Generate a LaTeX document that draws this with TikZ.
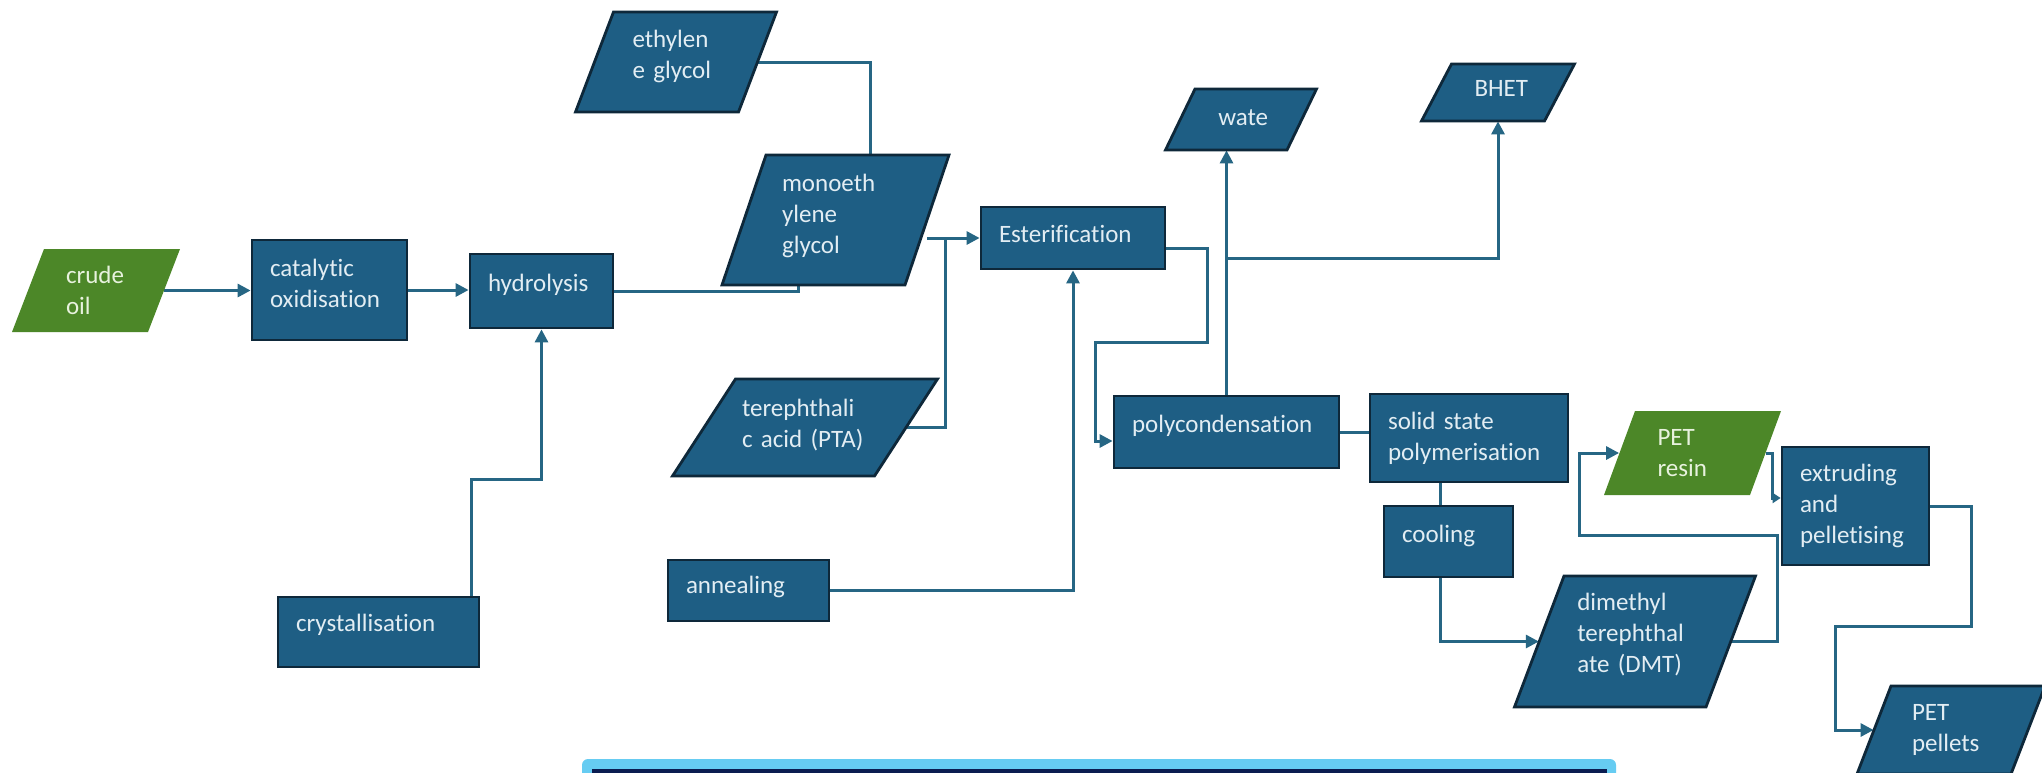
\documentclass[tikz,border=0pt]{standalone}
\usepackage{fontspec}
\setmainfont{Carlito}[RawFeature={-liga;-dlig;-clig}]
\usetikzlibrary{arrows.meta,calc}
\pgfdeclarelayer{bg}
\pgfsetlayers{bg,main}
\definecolor{boxc}{RGB}{30,94,132}
\definecolor{bdr}{RGB}{14,40,58}
\definecolor{grn}{RGB}{76,135,40}
\definecolor{tdark}{RGB}{226,237,243}
\definecolor{tgreen}{RGB}{232,242,222}
\definecolor{lnc}{RGB}{38,102,132}
\definecolor{lblue}{RGB}{102,204,242}
\definecolor{navy}{RGB}{10,28,80}
\hyphenpenalty=10000
\exhyphenpenalty=10000
\tikzset{
  basefont/.style={font=\fontsize{12.5}{15.5}\selectfont, align=left, inner ysep=0pt},
  procbox/.style={basefont, draw=bdr, line width=1.4pt, fill=boxc, text=tdark, inner xsep=9pt},
  paratext/.style={basefont, inner xsep=19pt},
  paradark/.style={draw=bdr, line width=1.4pt, fill=boxc},
  paragreen/.style={fill=grn},
  liftby/.style={execute at end node={\par\vspace{#1pt}\hrule height 0pt width 0pt}},
  conn/.style={draw=lnc, line width=1.5pt},
  arr/.style={conn, -{Triangle[length=6.5pt,width=6.5pt]}},
  smallarr/.style={conn, -{Triangle[length=4pt,width=5pt]}},
}
% [extra], name, x0, y0, x1, y1, text
\newcommand\pbox[7][]{%
  \pgfmathsetlengthmacro\bw{(#5-#3)*0.5pt}%
  \pgfmathsetlengthmacro\bh{(#6-#4)*0.5pt}%
  \pgfmathsetlengthmacro\btw{(#5-#3)*0.5pt-18pt}%
  \pgfmathsetmacro\bcx{(#3+#5)/2}%
  \pgfmathsetmacro\bcy{(#4+#6)/2}%
  \node[procbox, minimum width=\bw, minimum height=\bh, text width=\btw, #1] (#2) at (\bcx,\bcy) {#7};}
% [extra], kind (dark/green), name, cx, cy, L, H, slant, text
\newcommand\para[9][]{%
  \path[para#2] ({#4-#6/2+#8/2},{#5-#7/2}) -- ({#4+#6/2+#8/2},{#5-#7/2}) -- ({#4+#6/2-#8/2},{#5+#7/2}) -- ({#4-#6/2-#8/2},{#5+#7/2}) -- cycle;
  \pgfmathsetlengthmacro\bw{#6*0.5pt}%
  \pgfmathsetlengthmacro\bh{#7*0.5pt}%
  \pgfmathsetlengthmacro\btw{#6*0.5pt-38pt}%
  \node[paratext, text=t#2, minimum width=\bw, minimum height=\bh, text width=\btw, #1] (#3) at (#4,#5) {#9};}
\begin{document}
\begin{tikzpicture}[x=0.5pt,y=-0.5pt]
\useasboundingbox (0,0) rectangle (2042,772);
\begin{pgfonlayer}{bg}
  \fill[white] (0,0) rectangle (2042,772);
\end{pgfonlayer}

% parallelograms
\para{green}{crude}{96}{290.5}{136}{83}{32}{crude\\oil}
\para[liftby=6]{dark}{eg}{676}{62}{163}{100}{38}{ethylen\\e~glycol}
\para[liftby=4]{dark}{mono}{835.5}{220}{183}{130}{44}{monoeth\\ylene\\glycol}
\para[liftby=2]{dark}{pta}{805}{427.5}{202}{97}{63}{terephthali\\c~acid~(PTA)}
\para[liftby=2]{dark}{water}{1241}{119.5}{121.5}{61}{29.5}{wate}
\para[liftby=4]{dark}{bhet}{1498}{92.5}{123}{57}{30}{BHET}
\para[liftby=7]{dark}{dmt}{1635}{641.5}{191.5}{131}{49.5}{dimethyl\\terephthal\\ate~(DMT)}
\para{green}{resin}{1692.5}{453}{146}{84}{31}{PET\\resin}
\para{dark}{pel}{1951}{730}{154}{88}{34}{PET\\pellets}

% process boxes
\pbox[liftby=7]{cat}{252}{240}{407}{340}{catalytic\\oxidisation}
\pbox[liftby=6]{hyd}{470}{254}{613}{328}{hydrolysis}
\pbox[liftby=7]{cryst}{278}{597}{479}{667}{crystallisation}
\pbox[liftby=4]{ann}{668}{560}{829}{621}{annealing}
\pbox[liftby=4]{ester}{981}{207}{1165}{269}{Esterification}
\pbox[liftby=6]{poly}{1114}{396}{1339}{468}{polycondensation}
\pbox{solid}{1370}{394}{1568}{482}{solid~state\\polymerisation}
\pbox[liftby=6]{cool}{1384}{506}{1513}{577}{cooling}
\pbox{ext}{1782}{447}{1929}{565}{extruding\\and\\pelletising}

% bottom bar
\fill[lblue, rounded corners=3pt] (582,759) rectangle (1616,800);
\fill[navy] (592,769) rectangle (1607,800);

% connectors
\begin{pgfonlayer}{bg}
\draw[arr] (crude.east) -- (crude.east -| cat.west);
\draw[arr] (cat.east) -- (cat.east -| hyd.west);
\draw[arr] ([xshift=-4.5pt]cryst.north east) -- ++(0,-116) -| (hyd.south);
\draw[conn] (hyd.east) -| ([xshift=-18.75pt]mono.south);
\draw[conn] (eg.east) -| ([xshift=17.25pt]mono.north);
\draw[arr] (mono.east |- ester.west) -- (ester.west);
\draw[conn] (pta.east) -| ([xshift=-17pt]ester.west);
\draw[arr] (ann.east) -| (ester.south);
\draw[arr] ([yshift=-5pt]ester.east) -- ++(41,0) -- ++(0,94) -- ++(-112,0) |- ([yshift=-4.5pt]poly.west);
\draw[arr] (poly.north) -- (poly.north |- water.south);
\draw[arr] (poly.north |- 0,258) -| (bhet.south);
\draw[conn] (poly.east) -- (poly.east -| solid.west);
\draw[conn] ([xshift=-4pt]cool.north) -- ([xshift=-4pt]cool.north |- solid.south);
\draw[arr] ([xshift=-4pt]cool.south) |- (dmt.west);
\draw[arr] (dmt.east) -| ++(46,-106) -| ([xshift=-19.75pt]resin.west) -- (resin.west);
\draw[smallarr] (resin.east) -- ++(7,0) |- ([yshift=4pt]ext.west);
\draw[arr] (ext.east) -| ++(41,120) -| ++(-136,104) -- (pel.west);
\end{pgfonlayer}
\end{tikzpicture}
\end{document}
